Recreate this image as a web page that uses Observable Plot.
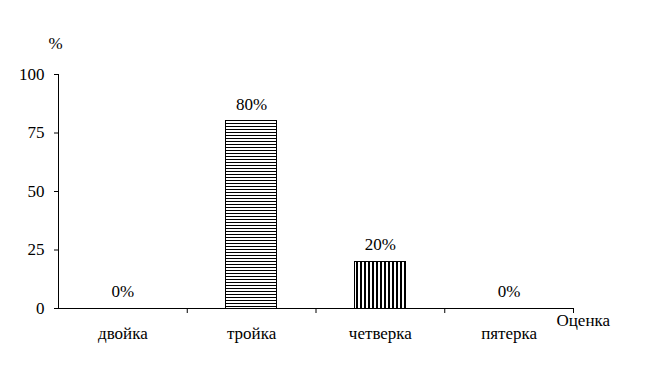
<!DOCTYPE html>
<html><head><meta charset="utf-8">
<script src="https://cdn.jsdelivr.net/npm/d3@7"></script>
<script src="https://cdn.jsdelivr.net/npm/@observablehq/plot@0.6"></script>
<style>
body{margin:0;background:#fff}
svg, svg text{font-family:"Times New Roman","Liberation Serif","DejaVu Serif",serif !important;}
</style>
</head><body><div id="chart"></div>
<script>
const categories = ["двойка", "тройка", "четверка", "пятерка"];
const values = [0, 80, 20, 0];
const yTicks = [0, 25, 50, 75, 100];
const yUnit = "%";
const xTitle = "Оценка";

const data = categories.map((c, i) => ({c, i, v: values[i]}));
const hatchFor = i => (i % 2 === 1 ? "url(#hatchH)" : "url(#hatchV)");

const plot = Plot.plot({
  width: 647,
  height: 391,
  marginLeft: 58,
  marginRight: 74,
  marginTop: 74,
  marginBottom: 83,
  style: {fontSize: "17px", color: "#000", background: "#fff"},
  x: {domain: [0, categories.length], axis: null},
  y: {domain: [0, 100], axis: null},
  marks: [
    Plot.rectY(data.filter(d => d.v > 0), {
      x1: d => d.i + 0.3, x2: d => d.i + 0.7, y: "v",
      fill: d => hatchFor(d.i), stroke: "#000", strokeWidth: 1,
      shapeRendering: "crispEdges"
    }),
    Plot.ruleX([0], {stroke: "#000", shapeRendering: "crispEdges"}),
    Plot.ruleY([0], {stroke: "#000", shapeRendering: "crispEdges"}),
    Plot.axisY({ticks: yTicks, tickSize: 4, tickPadding: 10, label: null, fontSize: 17, stroke: "#000"}),
    Plot.axisX({ticks: d3.range(1, categories.length + 1), tickSize: 5, tickFormat: () => "", label: null, stroke: "#000"}),
    Plot.text(data, {x: d => d.i + 0.5, y: 0, text: "c", dy: 25, fontSize: 17}),
    Plot.text(data, {x: d => d.i + 0.5, y: "v", text: d => d.v + "%", dy: -17, fontSize: 17}),
    Plot.text([yUnit], {x: 0, y: 100, text: d => d, dx: -3, dy: -31, fontSize: 17}),
    Plot.text([xTitle], {x: categories.length, y: 0, text: d => d, textAnchor: "start", dx: -17, dy: 12, fontSize: 17})
  ]
});

const svg = d3.select(plot);
const defs = svg.insert("defs", ":first-child");
const ph = defs.append("pattern").attr("id", "hatchH").attr("patternUnits", "userSpaceOnUse").attr("width", 8).attr("height", 3);
ph.append("rect").attr("width", 8).attr("height", 3).attr("fill", "#fff");
ph.append("rect").attr("width", 8).attr("height", 1).attr("fill", "#000");
const pv = defs.append("pattern").attr("id", "hatchV").attr("patternUnits", "userSpaceOnUse").attr("width", 4).attr("height", 8);
pv.append("rect").attr("width", 4).attr("height", 8).attr("fill", "#fff");
pv.append("rect").attr("width", 2).attr("height", 8).attr("fill", "#000");

document.getElementById("chart").appendChild(plot);
</script>
</body></html>
